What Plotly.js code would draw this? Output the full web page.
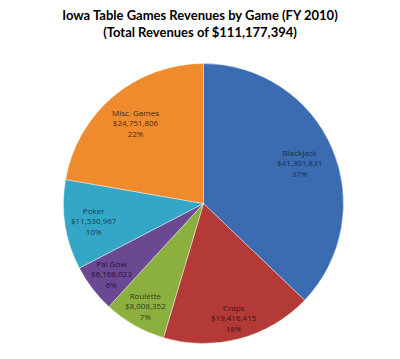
<!DOCTYPE html>
<html>
<head>
<meta charset="utf-8">
<script src="https://cdn.plot.ly/plotly-3.0.1.min.js"></script>
<style>html,body{margin:0;padding:0;background:#fff;}#chart{width:400px;height:359px;}</style>
</head>
<body>
<div id="chart"></div>
<script>
var games = ["Blackjack", "Craps", "Roulette", "Pai Gow", "Poker", "Misc. Games"];
var revenues = [41301831, 19416415, 8008352, 6168023, 11530967, 24751806];
var pctLabels = ["37%", "18%", "7%", "6%", "10%", "22%"];
var sliceColors = ["#3b6cb2", "#b43a37", "#8cb040", "#6b4892", "#33a7c5", "#ef8a2d"];
var labelColors = ["#1a2d4c", "#3a1312", "#303f16", "#221536", "#133f4a", "#4a2a0c"];
var labelRadius = [0.75, 0.85, 0.85, 0.83, 0.80, 0.76];

var W = 400, H = 359;
var domX = [(203.5 - 140) / W, (203.5 + 140) / W];
var domY = [1 - (203.5 + 140) / H, 1 - (203.5 - 140) / H];

var total = revenues.reduce(function (a, b) { return a + b; }, 0);
var rPx = 139;
var cx = (domX[0] + domX[1]) / 2, cy = (domY[0] + domY[1]) / 2;

var annotations = [];
var cum = 0;
games.forEach(function (g, i) {
  var mid = (cum + revenues[i] / 2) / total * 2 * Math.PI;
  cum += revenues[i];
  var rr = labelRadius[i] * rPx;
  annotations.push({
    xref: "paper", yref: "paper",
    x: cx + rr * Math.sin(mid) / W,
    y: cy + rr * Math.cos(mid) / H,
    xanchor: "center", yanchor: "middle",
    showarrow: false,
    align: "center",
    text: g + "<br>$" + revenues[i].toLocaleString("en-US") + "<br>" + pctLabels[i],
    font: { family: "Open Sans, sans-serif", size: 8, color: labelColors[i] }
  });
});

var trace = {
  type: "pie",
  labels: games,
  values: revenues,
  textinfo: "none",
  sort: false,
  direction: "clockwise",
  rotation: 0,
  marker: { colors: sliceColors, line: { color: "rgba(255,255,255,0.5)", width: 0.8 } },
  hoverinfo: "none",
  domain: { x: domX, y: domY }
};

var layout = {
  width: W,
  height: H,
  margin: { l: 0, r: 0, t: 0, b: 0 },
  paper_bgcolor: "#ffffff",
  showlegend: false,
  annotations: annotations,
  title: {
    text: "<b>Iowa Table Games Revenues by Game (FY 2010)<br>(Total Revenues of $111,177,394)</b>",
    font: { family: "Lato, sans-serif", size: 13, color: "#000000" },
    x: 0.5, xanchor: "center", xref: "container",
    y: 1 - 20 / 359, yanchor: "middle", yref: "container"
  }
};

Plotly.newPlot("chart", [trace], layout, { displayModeBar: false, staticPlot: true });
</script>
</body>
</html>
